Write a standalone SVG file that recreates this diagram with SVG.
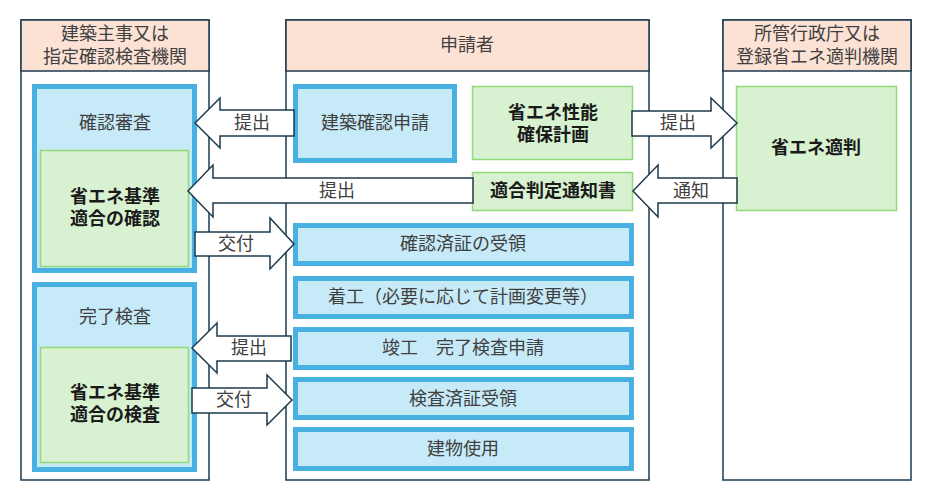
<svg xmlns="http://www.w3.org/2000/svg" width="932" height="500" viewBox="0 0 932 500">
<style>
text{font-family:"Liberation Sans","Noto Sans CJK JP","Noto Sans CJK SC",sans-serif;font-size:18px;fill:#404040;text-anchor:middle;dominant-baseline:central}
.b{font-weight:bold;fill:#1a1a1a}
.frame{fill:#fff;stroke:#1e3a4c;stroke-width:1.5}
.hdr{fill:#fbe2d5;stroke:#1e3a4c;stroke-width:1.5}
.blue{fill:#c6eaf8;stroke:#48b1e2;stroke-width:5}
.green{fill:#d8f1d0;stroke:#92d97a;stroke-width:1.5}
.arr{fill:#fff;stroke:#1e3a4c;stroke-width:1.5;stroke-linejoin:miter}
</style>
<rect width="932" height="500" fill="#fff"/>
<g id="col-left">
<rect class="frame" x="21" y="20" width="188" height="460"/>
<rect class="hdr" x="21" y="20" width="188" height="51"/>
<text><tspan x="115" y="34">建築主事又は</tspan><tspan x="115" y="57">指定確認検査機関</tspan></text>
</g>
<g id="col-mid">
<rect class="frame" x="286" y="20" width="363" height="460"/>
<rect class="hdr" x="286" y="20" width="363" height="51"/>
<text x="467" y="45">申請者</text>
</g>
<g id="col-right">
<rect class="frame" x="723" y="20" width="188" height="460"/>
<rect class="hdr" x="723" y="20" width="188" height="51"/>
<text><tspan x="817" y="34">所管行政庁又は</tspan><tspan x="817" y="57">登録省エネ適判機関</tspan></text>
</g>
<g id="kakunin-shinsa">
<rect class="blue" x="34.5" y="86.5" width="160" height="184"/>
<text x="115" y="123">確認審査</text>
</g>
<g id="shoene-kakunin">
<rect class="green" x="40.5" y="150.5" width="148" height="116"/>
<text class="b"><tspan x="115" y="197">省エネ基準</tspan><tspan x="115" y="219">適合の確認</tspan></text>
</g>
<g id="kanryo-kensa">
<rect class="blue" x="34.5" y="284.5" width="160" height="185"/>
<text x="115" y="317">完了検査</text>
</g>
<g id="shoene-kensa">
<rect class="green" x="40.5" y="347.5" width="148" height="115"/>
<text class="b"><tspan x="115" y="393">省エネ基準</tspan><tspan x="115" y="415">適合の検査</tspan></text>
</g>
<g id="kenchiku-kakunin-shinsei">
<rect class="blue" x="295.5" y="86.5" width="159" height="74"/>
<text x="375" y="123">建築確認申請</text>
</g>
<g id="shoene-keikaku">
<rect class="green" x="472.5" y="86.5" width="160" height="73"/>
<text class="b"><tspan x="553" y="113">省エネ性能</tspan><tspan x="553" y="135">確保計画</tspan></text>
</g>
<g id="tekigo-tsuchisho">
<rect class="green" x="472.5" y="172.5" width="160" height="38"/>
<text class="b" x="553" y="191">適合判定通知書</text>
</g>
<g id="kakuninzumisho">
<rect class="blue" x="295.5" y="225.5" width="336" height="38"/>
<text x="463" y="244">確認済証の受領</text>
</g>
<g id="chakko">
<rect class="blue" x="295.5" y="278.5" width="336" height="38"/>
<text x="463" y="297">着工（必要に応じて計画変更等）</text>
</g>
<g id="shunko">
<rect class="blue" x="295.5" y="329.5" width="336" height="38"/>
<text x="463" y="348">竣工　完了検査申請</text>
</g>
<g id="kensazumisho">
<rect class="blue" x="295.5" y="379.5" width="336" height="38"/>
<text x="463" y="399">検査済証受領</text>
</g>
<g id="tatemono-shiyo">
<rect class="blue" x="295.5" y="429.5" width="336" height="39"/>
<text x="463" y="449">建物使用</text>
</g>
<g id="shoene-tekihan">
<rect class="green" x="736.5" y="86.5" width="160" height="124"/>
<text class="b" x="816" y="148">省エネ適判</text>
</g>
<g id="connectors">
<path class="arr" d="M195,123 L220,98 L220,110 L294,110 L294,136 L220,136 L220,148 Z"/>
<text x="252" y="123">提出</text>
<path class="arr" d="M188,191 L213,165 L213,178 L473,178 L473,203 L213,203 L213,217 Z"/>
<text x="337" y="191">提出</text>
<path class="arr" d="M294,244 L270,218 L270,232 L195,232 L195,256 L270,256 L270,269 Z"/>
<text x="236" y="244">交付</text>
<path class="arr" d="M192,348 L217,323 L217,336 L291,336 L291,361 L217,361 L217,373 Z"/>
<text x="249" y="348">提出</text>
<path class="arr" d="M292,400 L267,375 L267,388 L192,388 L192,413 L267,413 L267,425 Z"/>
<text x="234" y="400">交付</text>
<path class="arr" d="M737,123 L711,98 L711,111 L632,111 L632,136 L711,136 L711,148 Z"/>
<text x="678" y="123">提出</text>
<path class="arr" d="M633,191 L658,165 L658,178 L737,178 L737,203 L658,203 L658,217 Z"/>
<text x="691" y="191">通知</text>
</g>
</svg>
